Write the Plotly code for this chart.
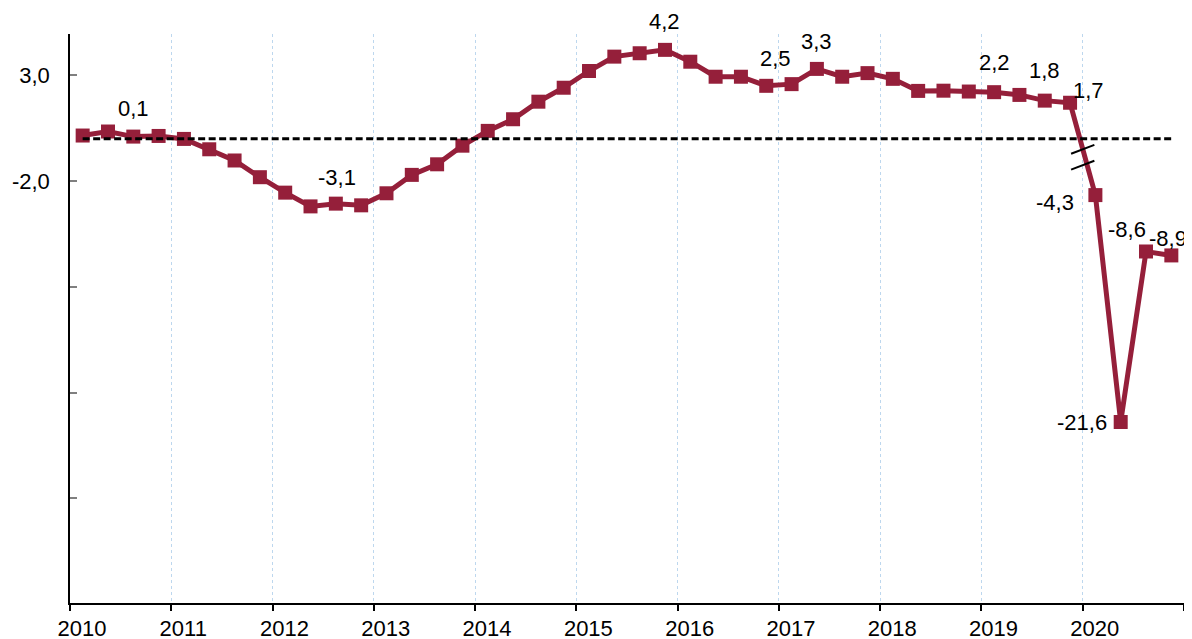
import plotly.graph_objects as go

# ---- data ----
years = list(range(2010, 2021))
quarters = [1, 2, 3, 4]
# GDP growth, year-on-year (%), 2010Q1 .. 2020Q4
growth = [0.15, 0.34, 0.1, 0.13,
          -0.01, -0.50, -1.03, -1.82,
          -2.55, -3.2, -3.07, -3.15,
          -2.58, -1.71, -1.21, -0.33,
          0.37, 0.92, 1.75, 2.41,
          3.20, 3.88, 4.04, 4.2,
          3.64, 2.93, 2.93, 2.5,
          2.58, 3.3, 2.93, 3.10,
          2.83, 2.26, 2.27, 2.23,
          2.2, 2.07, 1.8, 1.7,
          -4.3, -21.6, -8.6, -8.9]
break_index = 40          # first point drawn on the compressed part of the axis
break_scale = 0.62        # compression of the axis below the break
labeled_points = [2, 10, 23, 27, 29, 36, 38, 39, 40, 41, 42, 43]
label_shift = {2: (0, 28), 10: (1, 26), 23: (0, 28), 27: (9, 27), 29: (0, 27),
               36: (0, 30), 38: (0, 30), 39: (18, 12), 40: (-40, -7),
               41: (-39, -1), 42: (-19, 22), 43: (-3, 17)}
ytick_vals = [3, -2, -7, -12, -17, -22]
ytick_text = ["3,0", "-2,0", "", "", "", ""]
xtick_vals = list(range(2010, 2022))
xtick_text = [str(y) for y in range(2010, 2021)] + [""]

# ---- derived ----
x = [y + (q - 0.5) / 4 for y in years for q in quarters]
y_plot = [v if i < break_index else v * break_scale for i, v in enumerate(growth)]

def fmt(v):
    return f"{v:.1f}".replace(".", ",")

LINE = "#951F3A"
FONT = "Liberation Sans, Arial, sans-serif"

fig = go.Figure()
fig.add_trace(go.Scatter(
    x=x, y=y_plot, mode="lines+markers",
    line=dict(color=LINE, width=5),
    marker=dict(symbol="square", size=14, color=LINE),
    hovertext=[fmt(v) for v in growth], hoverinfo="text",
    showlegend=False, cliponaxis=False,
))
fig.add_trace(go.Scatter(
    x=x, y=[0] * len(x), mode="lines",
    line=dict(color="black", width=3, dash="7px,3.5px"),
    hoverinfo="skip", showlegend=False,
))

for i in labeled_points:
    dx, dy = label_shift[i]
    fig.add_annotation(x=x[i], y=y_plot[i], text=fmt(growth[i]), showarrow=False,
                       xshift=dx, yshift=dy,
                       font=dict(family=FONT, size=22, color="black"))

# axis-break marks on the line between the last normal point and the first compressed one
xb0 = (x[break_index - 1] + x[break_index]) / 2
for yb in (-0.5, -1.25):
    fig.add_shape(type="line", xref="x", yref="y",
                  x0=xb0 - 0.115, x1=xb0 + 0.115, y0=yb - 0.21, y1=yb + 0.21,
                  line=dict(color="black", width=2))

# the page body adds an 8px offset, so the figure is sized to end at the window edge
fig.update_layout(
    width=1184, height=631,
    margin=dict(l=62, r=8, t=26, b=36, autoexpand=False),
    paper_bgcolor="white", plot_bgcolor="white",
    font=dict(family=FONT, size=22, color="black"),
    xaxis=dict(range=[2010, 2021], tickvals=xtick_vals, ticktext=xtick_text,
               showline=True, linecolor="black", linewidth=1.5,
               ticks="outside", ticklen=6, tickcolor="black", tickwidth=1.5,
               ticklabelshift=12, ticklabelstandoff=-1, automargin=False,
               showgrid=True, gridcolor="#BDD7EE", gridwidth=1, griddash="dot",
               zeroline=False),
    yaxis=dict(range=[-21.95, 4.95], tickvals=ytick_vals, ticktext=ytick_text,
               showline=True, linecolor="black", linewidth=1.5,
               ticks="inside", ticklen=7, tickcolor="#808080", tickwidth=1.5,
               ticklabelstandoff=14, automargin=False,
               showgrid=False, zeroline=False),
)

fig.write_html("out.html")
